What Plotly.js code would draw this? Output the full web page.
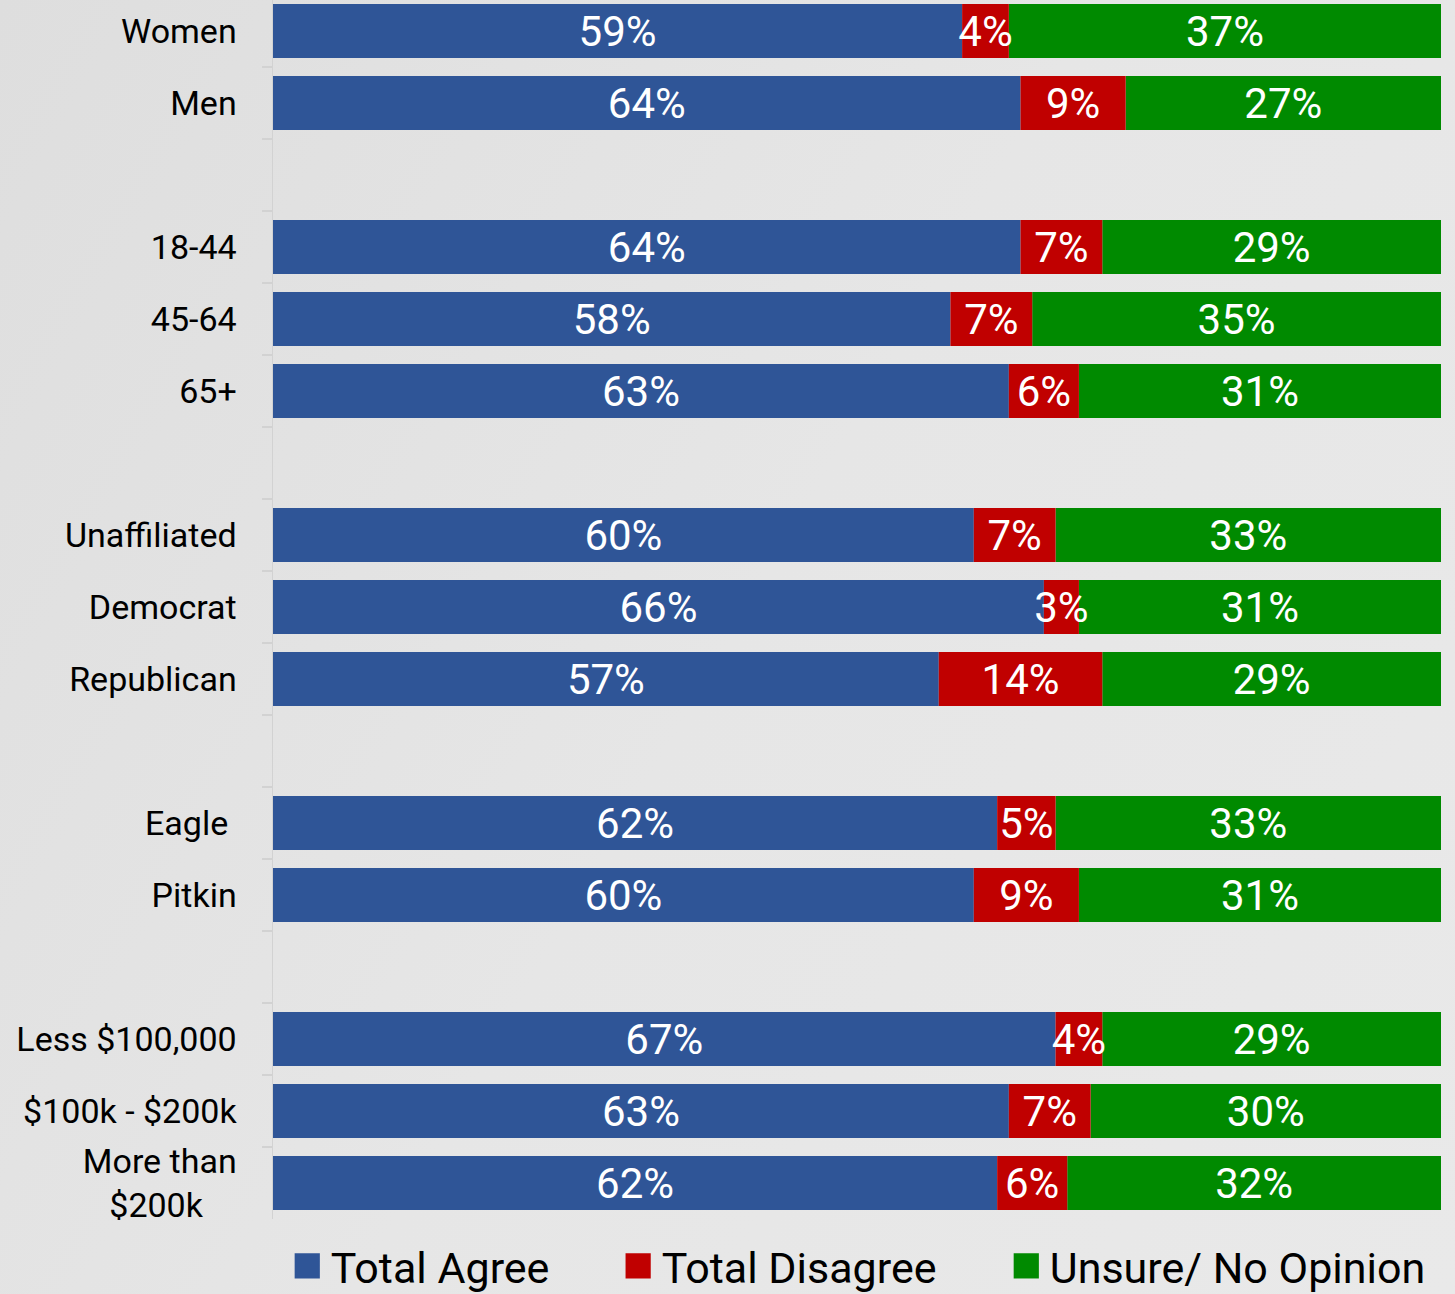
<!DOCTYPE html>
<html>
<head>
<meta charset="utf-8">
<script src="https://cdn.plot.ly/plotly-3.0.1.min.js"></script>
<style>
html,body{margin:0;padding:0;}
body{width:1455px;height:1294px;background:linear-gradient(120deg,#dedede 0%,#e6e6e6 50%,#e9e9e9 100%);}
#chart{width:1455px;height:1294px;}
</style>
</head>
<body>
<div id="chart"></div>
<script>
// Data
const categories = ["Women","Men","18-44","45-64","65+","Unaffiliated","Democrat","Republican","Eagle\u00a0","Pitkin","Less $100,000","$100k - $200k","More than<br>$200k\u00a0\u00a0\u00a0\u00a0"];
const agree    = [59,64,64,58,63,60,66,57,62,60,67,63,62];
const disagree = [4,9,7,7,6,7,3,14,5,9,4,7,6];
const unsure   = [37,27,29,35,31,33,31,29,33,31,29,30,32];
const seriesNames = ["Total Agree","Total Disagree","Unsure/ No Opinion"];
// category order including blank spacer rows
const categoryOrder = ["Women","Men","\u00a0","18-44","45-64","65+","\u00a0\u00a0","Unaffiliated","Democrat","Republican","\u00a0\u00a0\u00a0","Eagle\u00a0","Pitkin","\u00a0\u00a0\u00a0\u00a0","Less $100,000","$100k - $200k","More than<br>$200k\u00a0\u00a0\u00a0\u00a0"];

const colors = ["#2F5597","#C00000","#008A00"];

// stacked bases derived from the data
const baseAgree = agree.map(()=>0);
const baseDisagree = agree.slice();
const baseUnsure = agree.map((a,i)=>a+disagree[i]);

function barTrace(name, vals, base, color, legendId){
  return {
    type:'bar',
    orientation:'h',
    name: name,
    y: categories,
    x: vals,
    base: base,
    text: vals.map(n=>n+'%'),
    textposition:'inside',
    insidetextanchor:'middle',
    constraintext:'none',
    textangle:0,
    textfont:{family:'Roboto', size:42, color:'#ffffff'},
    marker:{color:color, line:{width:0}},
    legend: legendId,
    hoverinfo:'skip'
  };
}

// draw red last so its labels sit on top
const traces = [
  barTrace(seriesNames[0], agree, baseAgree, colors[0], 'legend'),
  barTrace(seriesNames[2], unsure, baseUnsure, colors[2], 'legend3'),
  barTrace(seriesNames[1], disagree, baseDisagree, colors[1], 'legend2')
];

const legendFont = {family:'Roboto', size:43, color:'#000'};
function legendAt(x){
  return {orientation:'h', x:x, xanchor:'left', y:-0.0385, yanchor:'middle',
          font:legendFont, bgcolor:'rgba(0,0,0,0)'};
}

const layout = {
  width:1455, height:1294,
  margin:{l:273, r:14, t:0, b:75, autoexpand:false},
  paper_bgcolor:'rgba(0,0,0,0)',
  plot_bgcolor:'rgba(0,0,0,0)',
  barmode:'overlay',
  bargap:0.25,
  font:{family:'Roboto', color:'#000'},
  xaxis:{range:[0,100], visible:false, fixedrange:true},
  yaxis:{
    type:'category',
    categoryorder:'array',
    categoryarray:categoryOrder,
    range:[16.5,-0.4306],
    autorange:false,
    tickson:'boundaries',
    ticks:'outside',
    ticklen:10,
    tickcolor:'#d2d2d2',
    tickwidth:1.5,
    showline:true,
    linecolor:'#d2d2d2',
    linewidth:1.5,
    showgrid:false,
    ticklabelstandoff:28,
    tickfont:{family:'Roboto', size:34, color:'#000'}
  },
  showlegend:true,
  legend: legendAt(0.0152),
  legend2: legendAt(0.2985),
  legend3: legendAt(0.6308)
};

function enlargeLegendSymbols(gd){
  gd.querySelectorAll('.legendpoints path').forEach(p=>{
    if(p.dataset.enlarged) return;
    const t = p.getAttribute('transform') || '';
    p.setAttribute('transform', t + ' translate(-3.5,0) scale(2.1)');
    p.dataset.enlarged = '1';
  });
}

Plotly.newPlot('chart', traces, layout, {displayModeBar:false, staticPlot:true})
  .then(gd=>{ enlargeLegendSymbols(gd); gd.on('plotly_afterplot', ()=>enlargeLegendSymbols(gd)); });
</script>
</body>
</html>
